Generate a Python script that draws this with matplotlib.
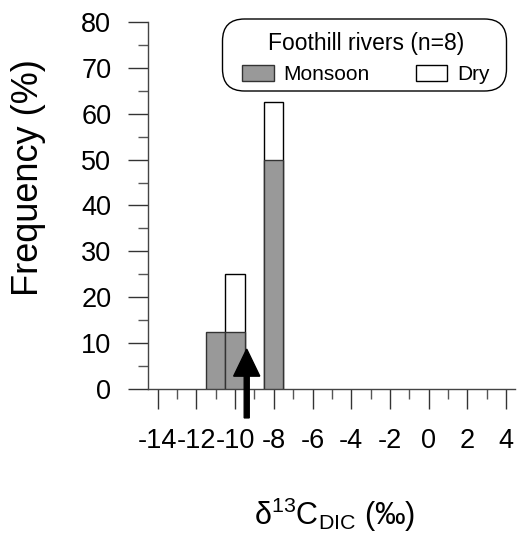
import numpy as np
import matplotlib
matplotlib.use("Agg")
import matplotlib.pyplot as plt
from matplotlib.patches import Patch, FancyBboxPatch
from matplotlib.ticker import MultipleLocator

plt.rcParams['font.family'] = ['Liberation Sans', 'DejaVu Sans']
plt.rcParams['axes.unicode_minus'] = False
plt.rcParams['mathtext.fontset'] = 'custom'
plt.rcParams['mathtext.rm'] = 'Liberation Sans'
plt.rcParams['mathtext.it'] = 'Liberation Sans'
plt.rcParams['mathtext.default'] = 'regular'

# histogram bins (d13C DIC, permil) and frequencies (%)
monsoon_bins = [-11, -10, -8]
monsoon_freq = [12.5, 12.5, 50.0]
dry_bins = [-10, -8]
dry_freq = [25.0, 62.5]
arrow_x = -9.4  # mean value marker

W, H = 517, 542
fig = plt.figure(figsize=(W / 100, H / 100), dpi=100)
ax = fig.add_axes([148 / W, 153 / H, 367 / W, 367 / H])

ax.bar(dry_bins, dry_freq, width=1.0, color='white', edgecolor='black', linewidth=1, zorder=2)
ax.bar(monsoon_bins, monsoon_freq, width=1.0, color='#999999', edgecolor='#333333', linewidth=1, zorder=3)

# arrow for mean
ax.arrow(arrow_x, -6.3, 0, 15.0, width=0.26, head_width=1.35, head_length=5.9,
         length_includes_head=True, color='black', clip_on=False, zorder=4)

ax.set_xlim(-14.5, 4.46)
ax.set_ylim(0, 80)
ax.spines['top'].set_visible(False)
ax.spines['right'].set_visible(False)
for s in ['left', 'bottom']:
    ax.spines[s].set_color('#444444')
    ax.spines[s].set_linewidth(1)

ax.xaxis.set_major_locator(MultipleLocator(2))
ax.xaxis.set_minor_locator(MultipleLocator(1))
ax.yaxis.set_major_locator(MultipleLocator(10))
ax.yaxis.set_minor_locator(MultipleLocator(5))
ax.tick_params(which='major', length=14.4, width=1, color='#333333', labelsize=19.5)
ax.tick_params(which='minor', length=7.2, width=1, color='#555555')
ax.tick_params(axis='y', which='major', pad=12)
ax.tick_params(axis='x', which='major', pad=14)

fig.text(29 / W, 1 - 178 / H, 'Frequency (%)', rotation=90, ha='center', va='center', fontsize=26)
fig.text(335 / W, 1 - 515 / H, r'δ$^{13}$C$_{DIC}$ (‰)', ha='center', va='center', fontsize=22)

# legend: rounded box drawn by hand, entries without frame
box = FancyBboxPatch((2.225, (H - 91) / 100), 2.84, 0.72,
                     boxstyle='round,pad=0,rounding_size=0.22',
                     transform=fig.dpi_scale_trans, facecolor='white',
                     edgecolor='black', linewidth=1, zorder=4.5, clip_on=False)
ax.add_artist(box)

handles = [Patch(facecolor='#999999', edgecolor='#333333', label='Monsoon'),
           Patch(facecolor='white', edgecolor='black', label='Dry')]
leg = ax.legend(handles=handles, title='Foothill rivers (n=8)', ncol=2, fontsize=15, title_fontsize=16.5,
                loc='center', bbox_to_anchor=(366 / W, 1 - 58 / H), bbox_transform=fig.transFigure,
                borderaxespad=0, handlelength=1.52, handleheight=0.75, handletextpad=0.48,
                columnspacing=2.2, borderpad=0, frameon=False)
leg.set_zorder(6)

fig.savefig('out.png', dpi=100)
